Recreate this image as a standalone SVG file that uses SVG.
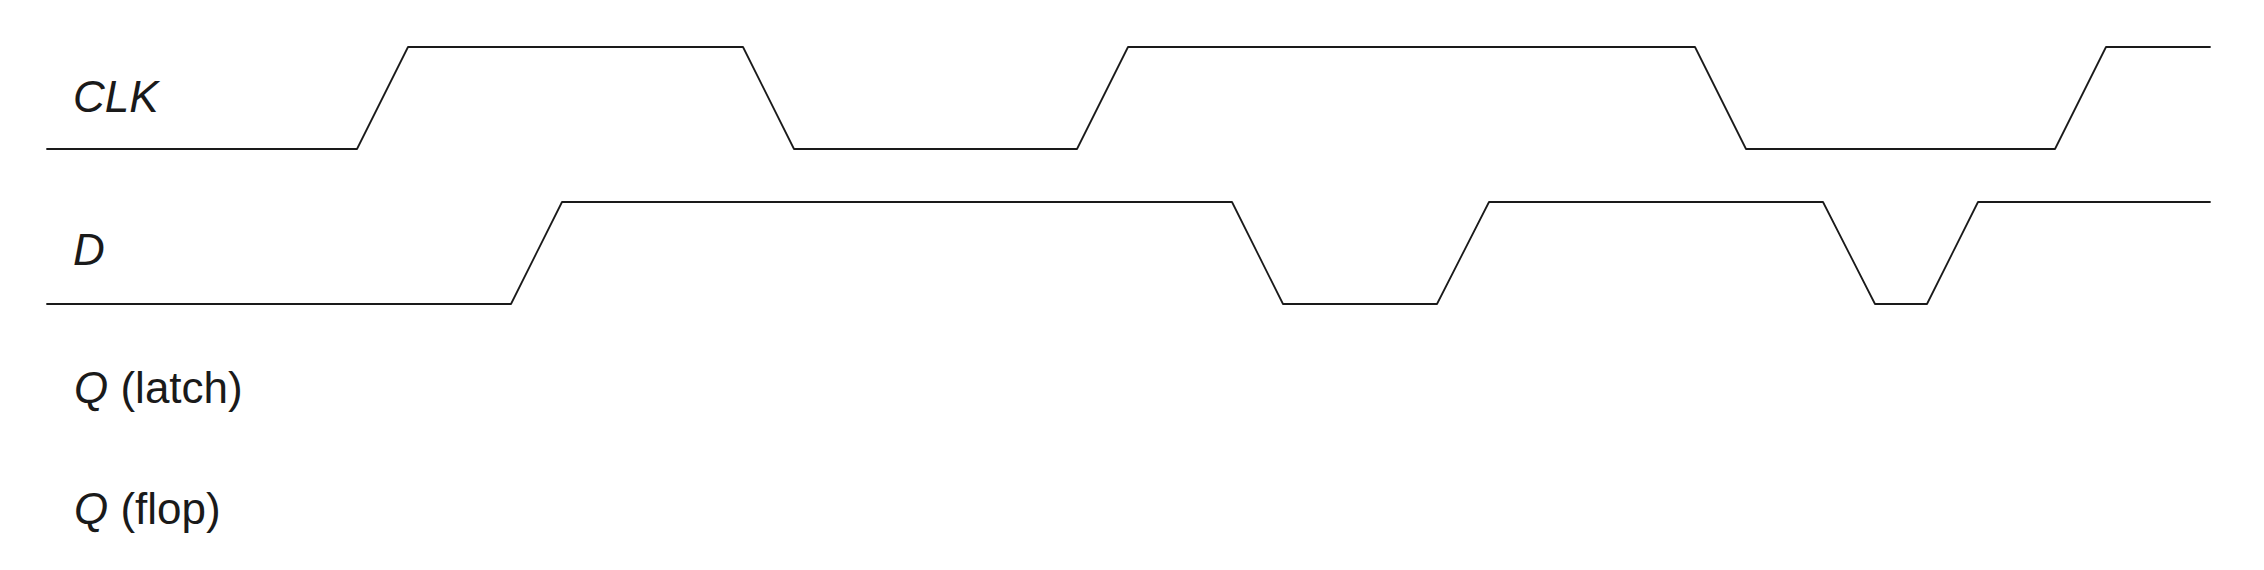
<svg xmlns="http://www.w3.org/2000/svg" width="2264" height="570" viewBox="0 0 2264 570">
<style>
.wave{fill:none;stroke:#1a1a1a;stroke-width:1.8;stroke-linejoin:round;stroke-linecap:round}
.lbl{font-family:"Liberation Sans",Arial,sans-serif;font-size:44px;fill:#1a1a1a}
.it{font-style:italic}
</style>
<rect width="2264" height="570" fill="#ffffff"/>
<g id="label-clk"><text class="lbl it" x="73" y="112">CLK</text></g>
<g id="label-d"><text class="lbl it" x="73" y="265">D</text></g>
<g id="label-qlatch"><text class="lbl" x="74" y="403"><tspan class="it">Q</tspan> (latch)</text></g>
<g id="label-qflop"><text class="lbl" x="74" y="524"><tspan class="it">Q</tspan> (flop)</text></g>
<g id="waveforms">
<path id="wave-clk" class="wave" d="M47,149 H357 L408,47 H743 L794,149 H1077 L1128,47 H1695 L1746,149 H2055 L2106,47 H2210"/>
<path id="wave-d" class="wave" d="M47,304 H511 L562,202 H1232 L1283,304 H1437 L1489,202 H1823 L1875,304 H1927 L1978,202 H2210"/>
</g>
</svg>
